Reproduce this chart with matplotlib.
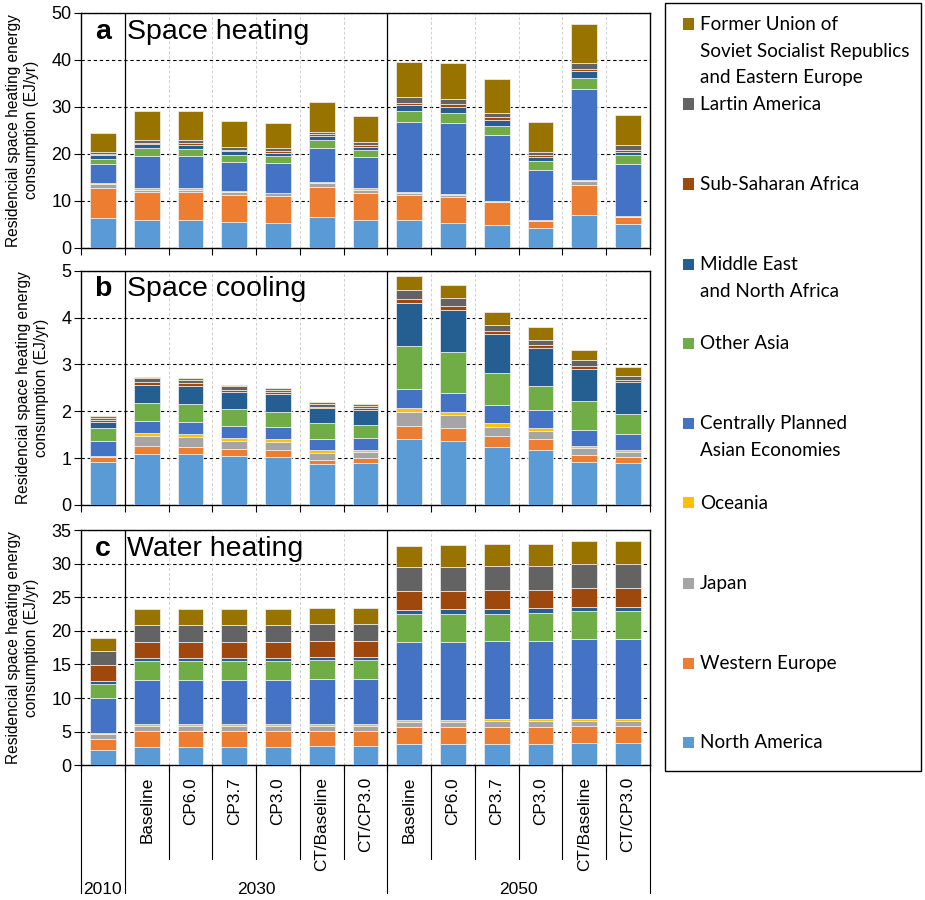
import numpy as np
import matplotlib.pyplot as plt
from matplotlib.patches import Rectangle
from matplotlib.transforms import blended_transform_factory

plt.rcParams['font.family'] = ['Liberation Sans', 'DejaVu Sans']

# bars: 2010 first, then six scenarios for 2030 and six for 2050
scenarios = ['', 'Baseline', 'CP6.0', 'CP3.7', 'CP3.0', 'CT/Baseline', 'CT/CP3.0',
             'Baseline', 'CP6.0', 'CP3.7', 'CP3.0', 'CT/Baseline', 'CT/CP3.0']
years = ['2010', '2030', '2050']

# regions in stacking order (bottom -> top)
regions = ['North America', 'Western Europe', 'Japan', 'Oceania',
           'Centrally Planned\nAsian Economies', 'Other Asia',
           'Middle East\nand North Africa', 'Sub-Saharan Africa',
           'Lartin America',
           'Former Union of\nSoviet Socialist Republics\nand Eastern Europe']
colors = ['#5B9BD5', '#ED7D31', '#A5A5A5', '#FFC000', '#4472C4',
          '#70AD47', '#255E91', '#9E480E', '#636363', '#997300']

# cumulative stack levels (EJ/yr), one row per bar, one column per region
heating_levels = [
    [6.2, 12.7, 13.5, 13.7, 17.8, 18.8, 19.7, 20.0, 20.4, 24.4],
    [5.75, 11.8, 12.35, 12.7, 19.5, 21.1, 22.0, 22.3, 22.9, 29.0],
    [5.75, 11.8, 12.3, 12.6, 19.4, 21.0, 21.9, 22.3, 22.9, 29.0],
    [5.5, 11.15, 11.85, 12.0, 18.3, 19.7, 20.45, 20.8, 21.45, 27.0],
    [5.3, 11.0, 11.5, 11.65, 18.0, 19.5, 20.2, 20.5, 21.1, 26.6],
    [6.4, 12.9, 13.7, 14.0, 21.2, 22.8, 23.8, 24.15, 24.7, 31.0],
    [5.75, 11.65, 12.2, 12.6, 19.2, 20.7, 21.45, 21.8, 22.45, 28.05],
    [5.75, 11.2, 11.65, 11.85, 26.8, 29.05, 30.25, 30.8, 32.0, 39.6],
    [5.3, 10.65, 11.1, 11.4, 26.6, 28.7, 30.0, 30.5, 31.7, 39.3],
    [4.7, 9.6, 9.7, 9.85, 24.0, 25.85, 27.1, 27.7, 28.55, 35.8],
    [4.25, 5.7, 5.75, 5.9, 16.6, 18.4, 19.25, 19.8, 20.4, 26.8],
    [6.95, 13.4, 14.1, 14.4, 33.65, 36.0, 37.5, 38.05, 39.35, 47.5],
    [4.9, 6.4, 6.6, 6.75, 17.7, 19.6, 20.4, 20.8, 21.75, 28.3],
]
cooling_levels = [
    [0.92, 1.02, 1.04, 1.05, 1.37, 1.64, 1.78, 1.81, 1.855, 1.89],
    [1.095, 1.265, 1.47, 1.535, 1.79, 2.18, 2.57, 2.62, 2.70, 2.73],
    [1.09, 1.245, 1.45, 1.51, 1.78, 2.155, 2.545, 2.595, 2.67, 2.70],
    [1.05, 1.19, 1.37, 1.43, 1.69, 2.04, 2.41, 2.46, 2.53, 2.56],
    [1.03, 1.17, 1.35, 1.41, 1.67, 1.99, 2.36, 2.41, 2.46, 2.49],
    [0.88, 0.965, 1.115, 1.165, 1.41, 1.75, 2.06, 2.10, 2.16, 2.20],
    [0.89, 0.995, 1.13, 1.17, 1.42, 1.705, 2.02, 2.07, 2.12, 2.15],
    [1.41, 1.69, 1.99, 2.06, 2.48, 3.40, 4.31, 4.40, 4.58, 4.88],
    [1.37, 1.64, 1.91, 1.98, 2.40, 3.27, 4.16, 4.24, 4.42, 4.70],
    [1.24, 1.48, 1.67, 1.75, 2.125, 2.82, 3.65, 3.71, 3.85, 4.11],
    [1.18, 1.41, 1.58, 1.64, 2.02, 2.545, 3.35, 3.425, 3.525, 3.79],
    [0.91, 1.07, 1.21, 1.25, 1.59, 2.23, 2.91, 2.96, 3.10, 3.30],
    [0.89, 1.03, 1.14, 1.18, 1.52, 1.94, 2.63, 2.67, 2.76, 2.95],
]
water_levels = [
    [2.24, 3.97, 4.72, 4.87, 10.08, 12.12, 12.47, 14.9, 17.04, 18.88],
    [2.78, 5.07, 5.91, 6.11, 12.72, 15.55, 16.0, 18.33, 20.81, 23.2],
    [2.78, 5.07, 5.91, 6.11, 12.72, 15.55, 16.0, 18.33, 20.81, 23.2],
    [2.78, 5.07, 5.91, 6.11, 12.72, 15.55, 16.0, 18.33, 20.81, 23.2],
    [2.78, 5.07, 5.91, 6.11, 12.72, 15.55, 16.0, 18.33, 20.81, 23.2],
    [2.83, 5.12, 5.91, 6.21, 12.87, 15.65, 16.1, 18.48, 21.01, 23.45],
    [2.83, 5.12, 5.91, 6.21, 12.87, 15.65, 16.1, 18.48, 21.01, 23.45],
    [3.13, 5.71, 6.51, 6.76, 18.28, 22.45, 23.15, 25.93, 29.46, 32.69],
    [3.13, 5.71, 6.51, 6.76, 18.28, 22.5, 23.2, 25.98, 29.51, 32.79],
    [3.18, 5.76, 6.56, 6.81, 18.43, 22.55, 23.25, 26.08, 29.66, 32.89],
    [3.23, 5.76, 6.56, 6.86, 18.43, 22.65, 23.35, 26.13, 29.66, 32.99],
    [3.28, 5.91, 6.66, 6.95, 18.73, 22.9, 23.6, 26.38, 29.96, 33.33],
    [3.28, 5.91, 6.66, 6.95, 18.73, 22.9, 23.6, 26.38, 29.96, 33.33],
]

panels = [
    ('a', 'Space heating', heating_levels, 50, 10),
    ('b', 'Space cooling', cooling_levels, 5, 1),
    ('c', 'Water heating', water_levels, 35, 5),
]
ylabel = 'Residencial space heating energy\nconsumption (EJ/yr)'

fig = plt.figure(figsize=(9.25, 9), dpi=100)
boxes = [[0.0876, 0.7250, 0.6151, 0.2609],
         [0.0876, 0.4389, 0.6151, 0.2603],
         [0.0876, 0.1497, 0.6151, 0.2614]]

x = np.arange(len(scenarios))
group_edges = [0.5, 6.5]

for box, (letter, title, levels, ymax, step) in zip(boxes, panels):
    ax = fig.add_axes(box)
    levels = np.array(levels)
    bottoms = np.column_stack([np.zeros(len(x)), levels[:, :-1]])
    heights = levels - bottoms
    for j in range(len(regions)):
        ax.bar(x, heights[:, j], bottom=bottoms[:, j], width=0.59,
               color=colors[j], edgecolor='#f2f2f2', linewidth=0.5, zorder=3)

    ax.set_xlim(-0.5, len(x) - 0.5)
    ax.set_ylim(0, ymax)
    ax.set_yticks(np.arange(0, ymax + step / 2, step))
    ax.tick_params(axis='y', labelsize=13, direction='out', length=5, pad=2)
    ax.yaxis.grid(True, linestyle=(0, (3, 2.5)), color='black', linewidth=0.8, zorder=1)
    ax.set_axisbelow(True)

    # scenario separators inside each year group
    for b in np.arange(0.5, len(x) - 1, 1.0):
        if b in group_edges:
            ax.axvline(b, color='black', linewidth=0.9, zorder=2)
        else:
            ax.axvline(b, color='#d0d0d0', linestyle=(0, (3, 2)), linewidth=0.7, zorder=1)

    ax.set_xticks(np.arange(-0.5, len(x), 1.0))
    ax.tick_params(axis='x', which='major', direction='out', length=5, labelbottom=False)
    for sp in ax.spines.values():
        sp.set_linewidth(1.0)

    ax.set_ylabel(ylabel, fontsize=11.2, labelpad=9)
    ax.text(0, 0.89, letter, transform=blended_transform_factory(ax.transData, ax.transAxes),
            fontsize=20.5, fontweight='bold', ha='center', va='baseline')
    ax.text(0.55, 0.89, title, transform=blended_transform_factory(ax.transData, ax.transAxes),
            fontsize=20.5, ha='left', va='baseline')

# scenario names and year groups under the bottom panel
ax.set_xticks(x, minor=True)
ax.set_xticklabels(scenarios, minor=True, rotation=90, fontsize=12.4)
ax.tick_params(axis='x', which='minor', length=0, pad=8.5)
trans = blended_transform_factory(ax.transData, ax.transAxes)
for b in np.arange(-0.5, len(x), 1.0):
    low = -0.545 if b in (-0.5, 0.5, 6.5, len(x) - 0.5) else -0.40
    ax.plot([b, b], [0, low], transform=trans, color='black', linewidth=0.8, clip_on=False)
for xc, yr in zip([0, 3.5, 9.5], years):
    ax.text(xc, -0.527, yr, transform=trans, fontsize=12.5, ha='center', va='center')

# legend box on the right
fig.add_artist(Rectangle((665 / 925, 1 - 771 / 900), 256 / 925, 768 / 900,
                         transform=fig.transFigure, fill=False,
                         edgecolor='black', linewidth=1.0))
legend_rows = [24, 104, 184, 264, 343, 423, 503, 583, 663, 742]
for name, col, yrow in zip(regions[::-1], colors[::-1], legend_rows):
    fig.add_artist(Rectangle((683 / 925, 1 - (yrow + 5.5) / 900), 11 / 925, 11 / 900,
                             transform=fig.transFigure, facecolor=col, edgecolor='none'))
    fig.text(700 / 925, 1 - (yrow - 8) / 900, name, fontsize=13.6, family=['Lato', 'DejaVu Sans'],
             ha='left', va='top', linespacing=1.68)

fig.savefig('out.png', dpi=100)
